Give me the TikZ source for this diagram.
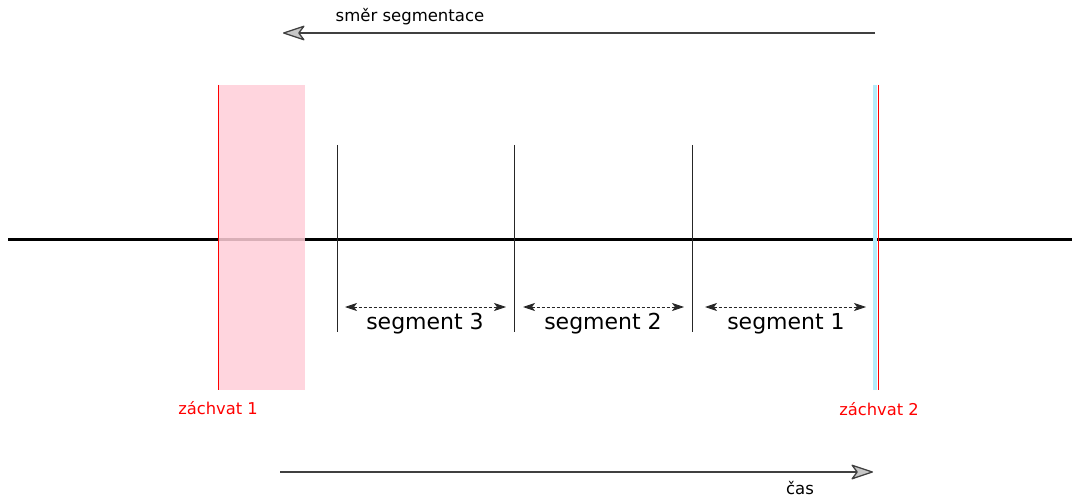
\documentclass[tikz,border=0pt]{standalone}
\usepackage{fontspec}
\setmainfont{DejaVu Sans}
\usetikzlibrary{arrows.meta}
\definecolor{zpink}{RGB}{255,206,216}
\definecolor{zblue}{RGB}{180,236,250}
\definecolor{zred}{RGB}{255,0,0}
\tikzset{
  bigarrow/.style={draw=black!75, line width=2pt, -{Stealth[length=24pt,width=16pt,inset=6pt,fill=black!22,line width=1.3pt,round]}},
  segline/.style={draw=black!85, line width=1pt},
  segarrow/.style={draw=black!85, line width=0.8pt, dash pattern=on 3pt off 2pt, {Stealth[length=12pt,width=8pt,inset=3pt]}-{Stealth[length=12pt,width=8pt,inset=3pt]}},
  seglabel/.style={font=\fontsize{22}{25}\selectfont, text=black, inner sep=0pt},
  redlabel/.style={font=\fontsize{16.3}{19}\selectfont, text=zred, inner sep=0pt},
  toplabel/.style={font=\fontsize{16.5}{19}\selectfont, text=black, inner sep=0pt},
}
\begin{document}
\begin{tikzpicture}[x=1pt,y=-1pt]
\useasboundingbox (0,0) rectangle (1072,500);
% coordinates
\coordinate (tA) at (875,33);
\coordinate (tB) at (283,33);
\coordinate (bA) at (280,472);
\coordinate (bB) at (873,472);
\coordinate (mL) at (8,240);
\coordinate (mR) at (1072,240);
% main time line
\draw[black, line width=3pt] (mL) -- (mR);
% seizure 1 region
\fill[zpink, opacity=0.85] (218,85) rectangle (305,390);
\draw[zred, line width=1pt] (218,85) coordinate (r1t) -- (218,390) coordinate (r1b);
% seizure 2
\fill[zblue] (872.5,85) rectangle (877,390);
\draw[zred, line width=1pt] (878,85) coordinate (r2t) -- (878,390) coordinate (r2b);
% segment boundaries
\foreach \x/\n in {337/s0,514/s1,692/s2}{
  \draw[segline] (\x,145) coordinate (\n t) -- (\x,332) coordinate (\n b);
}
% segment arrows
\coordinate (a3l) at (345,307); \coordinate (a3r) at (506,307);
\coordinate (a2l) at (523,307); \coordinate (a2r) at (684,307);
\coordinate (a1l) at (705,307); \coordinate (a1r) at (866,307);
\draw[segarrow] (a3l) -- (a3r);
\draw[segarrow] (a2l) -- (a2r);
\draw[segarrow] (a1l) -- (a1r);
\node[seglabel] (l3) at (425,324) {segment 3};
\node[seglabel] (l2) at (603,324) {segment 2};
\node[seglabel] (l1) at (786,324) {segment 1};
% labels
\node[redlabel] (z1) at (218,408) {záchvat 1};
\node[redlabel] (z2) at (879,409) {záchvat 2};
% direction arrows
\draw[bigarrow] (tA) -- (tB);
\node[toplabel] (tl) at (410,17) {směr segmentace};
\draw[bigarrow] (bA) -- (bB);
\node[toplabel] (cl) at (800,488) {čas};
\end{tikzpicture}
\end{document}
